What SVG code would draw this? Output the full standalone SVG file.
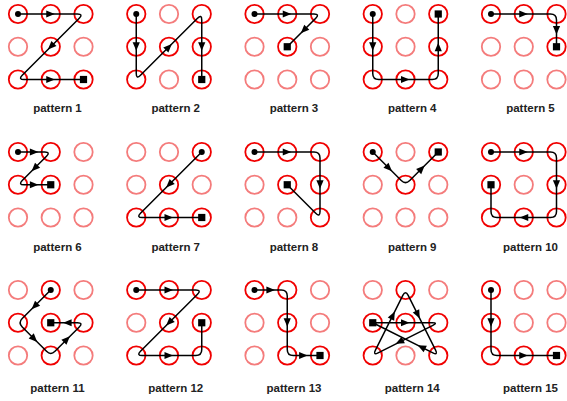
<svg xmlns="http://www.w3.org/2000/svg" xmlns:xlink="http://www.w3.org/1999/xlink" width="567" height="401" viewBox="0 0 567 401">
<style>
.on{fill:none;stroke:#f00000;stroke-width:1.8}
.off{fill:none;stroke:#f47c7c;stroke-width:1.8}
.ln{fill:none;stroke:#000;stroke-width:1.5;stroke-linejoin:round}
.ar,.st,.en{fill:#000;stroke:none}
.lb{font-family:"Liberation Sans",Arial,sans-serif;font-weight:bold;font-size:11.5px;fill:#222;text-anchor:middle}
</style>
<defs>
<circle id="on" class="on" r="9.2"/>
<circle id="off" class="off" r="9.2"/>
<path id="arr" class="ar" d="M4,0 L-4.5,-3.6 L-4.5,3.6 Z"/>
<circle id="st" class="st" r="3"/>
<rect id="en" class="en" x="-3.6" y="-3.6" width="7.2" height="7.2"/>
</defs>

<!-- pattern 1 -->
<g id="pattern1" transform="translate(18,14)">
<g class="dots">
<use href="#on" x="0" y="0"/><use href="#on" x="32.75" y="0"/><use href="#on" x="65.5" y="0"/>
<use href="#off" x="0" y="32.75"/><use href="#on" x="32.75" y="32.75"/><use href="#off" x="65.5" y="32.75"/>
<use href="#on" x="0" y="65.5"/><use href="#on" x="32.75" y="65.5"/><use href="#on" x="65.5" y="65.5"/>
</g>
<g class="connectors">
<path class="ln" d="M0,0 H59.5 Q65.5,0 61.26,4.24 L4.24,61.26 Q0,65.5 6,65.5 H65.5"/>
<use href="#arr" transform="translate(32.75,0)"/>
<use href="#arr" transform="translate(32.75,32.75) rotate(135)"/>
<use href="#arr" transform="translate(32.75,65.5)"/>
<use href="#st" x="0" y="0"/><use href="#en" x="65.5" y="65.5"/>
</g>
<text class="lb" x="39.5" y="98">pattern 1</text>
</g>

<!-- pattern 2 -->
<g id="pattern2" transform="translate(136.25,14)">
<g class="dots">
<use href="#on" x="0" y="0"/><use href="#off" x="32.75" y="0"/><use href="#on" x="65.5" y="0"/>
<use href="#on" x="0" y="32.75"/><use href="#on" x="32.75" y="32.75"/><use href="#on" x="65.5" y="32.75"/>
<use href="#on" x="0" y="65.5"/><use href="#off" x="32.75" y="65.5"/><use href="#on" x="65.5" y="65.5"/>
</g>
<g class="connectors">
<path class="ln" d="M0,0 V59.5 Q0,65.5 4.24,61.26 L61.26,4.24 Q65.5,0 65.5,6 V65.5"/>
<use href="#arr" transform="translate(0,32.75) rotate(90)"/>
<use href="#arr" transform="translate(32.75,32.75) rotate(-45)"/>
<use href="#arr" transform="translate(65.5,32.75) rotate(90)"/>
<use href="#st" x="0" y="0"/><use href="#en" x="65.5" y="65.5"/>
</g>
<text class="lb" x="39.5" y="98">pattern 2</text>
</g>

<!-- pattern 3 -->
<g id="pattern3" transform="translate(254.5,14)">
<g class="dots">
<use href="#on" x="0" y="0"/><use href="#on" x="32.75" y="0"/><use href="#on" x="65.5" y="0"/>
<use href="#off" x="0" y="32.75"/><use href="#on" x="32.75" y="32.75"/><use href="#off" x="65.5" y="32.75"/>
<use href="#off" x="0" y="65.5"/><use href="#off" x="32.75" y="65.5"/><use href="#off" x="65.5" y="65.5"/>
</g>
<g class="connectors">
<path class="ln" d="M0,0 H59.5 Q65.5,0 61.26,4.24 L32.75,32.75"/>
<use href="#arr" transform="translate(32.75,0)"/>
<use href="#arr" transform="translate(49.1,16.4) rotate(135)"/>
<use href="#st" x="0" y="0"/><use href="#en" x="32.75" y="32.75"/>
</g>
<text class="lb" x="39.5" y="98">pattern 3</text>
</g>

<!-- pattern 4 -->
<g id="pattern4" transform="translate(372.75,14)">
<g class="dots">
<use href="#on" x="0" y="0"/><use href="#off" x="32.75" y="0"/><use href="#on" x="65.5" y="0"/>
<use href="#on" x="0" y="32.75"/><use href="#off" x="32.75" y="32.75"/><use href="#on" x="65.5" y="32.75"/>
<use href="#on" x="0" y="65.5"/><use href="#on" x="32.75" y="65.5"/><use href="#on" x="65.5" y="65.5"/>
</g>
<g class="connectors">
<path class="ln" d="M0,0 V59.5 Q0,65.5 6,65.5 H59.5 Q65.5,65.5 65.5,59.5 V0"/>
<use href="#arr" transform="translate(0,32.75) rotate(90)"/>
<use href="#arr" transform="translate(32.75,65.5)"/>
<use href="#arr" transform="translate(65.5,32.75) rotate(-90)"/>
<use href="#st" x="0" y="0"/><use href="#en" x="65.5" y="0"/>
</g>
<text class="lb" x="39.5" y="98">pattern 4</text>
</g>

<!-- pattern 5 -->
<g id="pattern5" transform="translate(491,14)">
<g class="dots">
<use href="#on" x="0" y="0"/><use href="#on" x="32.75" y="0"/><use href="#on" x="65.5" y="0"/>
<use href="#off" x="0" y="32.75"/><use href="#off" x="32.75" y="32.75"/><use href="#on" x="65.5" y="32.75"/>
<use href="#off" x="0" y="65.5"/><use href="#off" x="32.75" y="65.5"/><use href="#off" x="65.5" y="65.5"/>
</g>
<g class="connectors">
<path class="ln" d="M0,0 H59.5 Q65.5,0 65.5,6 V32.75"/>
<use href="#arr" transform="translate(32.75,0)"/>
<use href="#arr" transform="translate(65.5,16.4) rotate(90)"/>
<use href="#st" x="0" y="0"/><use href="#en" x="65.5" y="32.75"/>
</g>
<text class="lb" x="39.5" y="98">pattern 5</text>
</g>

<!-- pattern 6 -->
<g id="pattern6" transform="translate(18,152)">
<g class="dots">
<use href="#on" x="0" y="0"/><use href="#on" x="32.75" y="0"/><use href="#off" x="65.5" y="0"/>
<use href="#on" x="0" y="32.75"/><use href="#on" x="32.75" y="32.75"/><use href="#off" x="65.5" y="32.75"/>
<use href="#off" x="0" y="65.5"/><use href="#off" x="32.75" y="65.5"/><use href="#off" x="65.5" y="65.5"/>
</g>
<g class="connectors">
<path class="ln" d="M0,0 H26.75 Q32.75,0 28.51,4.24 L4.24,28.51 Q0,32.75 6,32.75 H32.75"/>
<use href="#arr" transform="translate(16.4,0)"/>
<use href="#arr" transform="translate(16.4,16.4) rotate(135)"/>
<use href="#arr" transform="translate(16.4,32.75)"/>
<use href="#st" x="0" y="0"/><use href="#en" x="32.75" y="32.75"/>
</g>
<text class="lb" x="39.5" y="99">pattern 6</text>
</g>

<!-- pattern 7 -->
<g id="pattern7" transform="translate(136.25,152)">
<g class="dots">
<use href="#off" x="0" y="0"/><use href="#off" x="32.75" y="0"/><use href="#on" x="65.5" y="0"/>
<use href="#off" x="0" y="32.75"/><use href="#on" x="32.75" y="32.75"/><use href="#off" x="65.5" y="32.75"/>
<use href="#on" x="0" y="65.5"/><use href="#on" x="32.75" y="65.5"/><use href="#on" x="65.5" y="65.5"/>
</g>
<g class="connectors">
<path class="ln" d="M65.5,0 L4.24,61.26 Q0,65.5 6,65.5 H65.5"/>
<use href="#arr" transform="translate(32.75,32.75) rotate(135)"/>
<use href="#arr" transform="translate(32.75,65.5)"/>
<use href="#st" x="65.5" y="0"/><use href="#en" x="65.5" y="65.5"/>
</g>
<text class="lb" x="39.5" y="99">pattern 7</text>
</g>

<!-- pattern 8 -->
<g id="pattern8" transform="translate(254.5,152)">
<g class="dots">
<use href="#on" x="0" y="0"/><use href="#on" x="32.75" y="0"/><use href="#on" x="65.5" y="0"/>
<use href="#off" x="0" y="32.75"/><use href="#on" x="32.75" y="32.75"/><use href="#on" x="65.5" y="32.75"/>
<use href="#off" x="0" y="65.5"/><use href="#off" x="32.75" y="65.5"/><use href="#on" x="65.5" y="65.5"/>
</g>
<g class="connectors">
<path class="ln" d="M0,0 H59.5 Q65.5,0 65.5,6 V59.5 Q65.5,65.5 61.26,61.26 L32.75,32.75"/>
<use href="#arr" transform="translate(32.75,0)"/>
<use href="#arr" transform="translate(65.5,32.75) rotate(90)"/>
<use href="#st" x="0" y="0"/><use href="#en" x="32.75" y="32.75"/>
</g>
<text class="lb" x="39.5" y="99">pattern 8</text>
</g>

<!-- pattern 9 -->
<g id="pattern9" transform="translate(372.75,152)">
<g class="dots">
<use href="#on" x="0" y="0"/><use href="#off" x="32.75" y="0"/><use href="#on" x="65.5" y="0"/>
<use href="#off" x="0" y="32.75"/><use href="#on" x="32.75" y="32.75"/><use href="#off" x="65.5" y="32.75"/>
<use href="#off" x="0" y="65.5"/><use href="#off" x="32.75" y="65.5"/><use href="#off" x="65.5" y="65.5"/>
</g>
<g class="connectors">
<path class="ln" d="M0,0 L28.51,28.51 Q32.75,32.75 36.99,28.51 L65.5,0"/>
<use href="#arr" transform="translate(16.4,16.4) rotate(45)"/>
<use href="#arr" transform="translate(49.1,16.4) rotate(-45)"/>
<use href="#st" x="0" y="0"/><use href="#en" x="65.5" y="0"/>
</g>
<text class="lb" x="39.5" y="99">pattern 9</text>
</g>

<!-- pattern 10 -->
<g id="pattern10" transform="translate(491,152)">
<g class="dots">
<use href="#on" x="0" y="0"/><use href="#on" x="32.75" y="0"/><use href="#on" x="65.5" y="0"/>
<use href="#on" x="0" y="32.75"/><use href="#off" x="32.75" y="32.75"/><use href="#on" x="65.5" y="32.75"/>
<use href="#on" x="0" y="65.5"/><use href="#on" x="32.75" y="65.5"/><use href="#on" x="65.5" y="65.5"/>
</g>
<g class="connectors">
<path class="ln" d="M0,0 H59.5 Q65.5,0 65.5,6 V59.5 Q65.5,65.5 59.5,65.5 H6 Q0,65.5 0,59.5 V32.75"/>
<use href="#arr" transform="translate(32.75,0)"/>
<use href="#arr" transform="translate(65.5,32.75) rotate(90)"/>
<use href="#arr" transform="translate(32.75,65.5) rotate(180)"/>
<use href="#st" x="0" y="0"/><use href="#en" x="0" y="32.75"/>
</g>
<text class="lb" x="39.5" y="99">pattern 10</text>
</g>

<!-- pattern 11 -->
<g id="pattern11" transform="translate(18,290)">
<g class="dots">
<use href="#off" x="0" y="0"/><use href="#on" x="32.75" y="0"/><use href="#off" x="65.5" y="0"/>
<use href="#on" x="0" y="32.75"/><use href="#on" x="32.75" y="32.75"/><use href="#on" x="65.5" y="32.75"/>
<use href="#off" x="0" y="65.5"/><use href="#on" x="32.75" y="65.5"/><use href="#off" x="65.5" y="65.5"/>
</g>
<g class="connectors">
<path class="ln" d="M32.75,0 L4.24,28.51 Q0,32.75 4.24,36.99 L28.51,61.26 Q32.75,65.5 36.99,61.26 L61.26,36.99 Q65.5,32.75 59.5,32.75 H32.75"/>
<use href="#arr" transform="translate(16.4,16.4) rotate(135)"/>
<use href="#arr" transform="translate(16.4,49.1) rotate(45)"/>
<use href="#arr" transform="translate(49.1,49.1) rotate(-45)"/>
<use href="#arr" transform="translate(49.1,32.75) rotate(180)"/>
<use href="#st" x="32.75" y="0"/><use href="#en" x="32.75" y="32.75"/>
</g>
<text class="lb" x="39.5" y="102">pattern 11</text>
</g>

<!-- pattern 12 -->
<g id="pattern12" transform="translate(136.25,290)">
<g class="dots">
<use href="#on" x="0" y="0"/><use href="#on" x="32.75" y="0"/><use href="#on" x="65.5" y="0"/>
<use href="#off" x="0" y="32.75"/><use href="#on" x="32.75" y="32.75"/><use href="#on" x="65.5" y="32.75"/>
<use href="#on" x="0" y="65.5"/><use href="#on" x="32.75" y="65.5"/><use href="#on" x="65.5" y="65.5"/>
</g>
<g class="connectors">
<path class="ln" d="M0,0 H59.5 Q65.5,0 61.26,4.24 L4.24,61.26 Q0,65.5 6,65.5 H59.5 Q65.5,65.5 65.5,59.5 V32.75"/>
<use href="#arr" transform="translate(32.75,0)"/>
<use href="#arr" transform="translate(32.75,32.75) rotate(135)"/>
<use href="#arr" transform="translate(32.75,65.5)"/>
<use href="#st" x="0" y="0"/><use href="#en" x="65.5" y="32.75"/>
</g>
<text class="lb" x="39.5" y="102">pattern 12</text>
</g>

<!-- pattern 13 -->
<g id="pattern13" transform="translate(254.5,290)">
<g class="dots">
<use href="#on" x="0" y="0"/><use href="#on" x="32.75" y="0"/><use href="#off" x="65.5" y="0"/>
<use href="#off" x="0" y="32.75"/><use href="#on" x="32.75" y="32.75"/><use href="#off" x="65.5" y="32.75"/>
<use href="#off" x="0" y="65.5"/><use href="#on" x="32.75" y="65.5"/><use href="#on" x="65.5" y="65.5"/>
</g>
<g class="connectors">
<path class="ln" d="M0,0 H26.75 Q32.75,0 32.75,6 V59.5 Q32.75,65.5 38.75,65.5 H65.5"/>
<use href="#arr" transform="translate(16.4,0)"/>
<use href="#arr" transform="translate(32.75,32.75) rotate(90)"/>
<use href="#arr" transform="translate(49.1,65.5)"/>
<use href="#st" x="0" y="0"/><use href="#en" x="65.5" y="65.5"/>
</g>
<text class="lb" x="39.5" y="102">pattern 13</text>
</g>

<!-- pattern 14 -->
<g id="pattern14" transform="translate(372.75,290)">
<g class="dots">
<use href="#off" x="0" y="0"/><use href="#on" x="32.75" y="0"/><use href="#off" x="65.5" y="0"/>
<use href="#on" x="0" y="32.75"/><use href="#on" x="32.75" y="32.75"/><use href="#on" x="65.5" y="32.75"/>
<use href="#on" x="0" y="65.5"/><use href="#off" x="32.75" y="65.5"/><use href="#on" x="65.5" y="65.5"/>
</g>
<g class="connectors">
<path class="ln" d="M0,32.75 H59.5 Q65.5,32.75 60.14,35.43 L5.37,62.82 Q0,65.5 2.68,60.13 L30.07,5.37 Q32.75,0 35.43,5.37 L62.82,60.14 Q65.5,65.5 60.14,62.82 L0,32.75"/>
<use href="#arr" transform="translate(32.75,32.75)"/>
<use href="#arr" transform="translate(26.5,52) rotate(153.4)"/>
<use href="#arr" transform="translate(20.25,25) rotate(-63.4)"/>
<use href="#arr" transform="translate(45.25,25) rotate(63.4)"/>
<use href="#arr" transform="translate(48.5,57) rotate(206.6)"/>
<use href="#en" x="0" y="32.75"/>
</g>
<text class="lb" x="39.5" y="102">pattern 14</text>
</g>

<!-- pattern 15 -->
<g id="pattern15" transform="translate(491,290)">
<g class="dots">
<use href="#on" x="0" y="0"/><use href="#off" x="32.75" y="0"/><use href="#off" x="65.5" y="0"/>
<use href="#on" x="0" y="32.75"/><use href="#off" x="32.75" y="32.75"/><use href="#off" x="65.5" y="32.75"/>
<use href="#on" x="0" y="65.5"/><use href="#on" x="32.75" y="65.5"/><use href="#on" x="65.5" y="65.5"/>
</g>
<g class="connectors">
<path class="ln" d="M0,0 V59.5 Q0,65.5 6,65.5 H65.5"/>
<use href="#arr" transform="translate(0,32.75) rotate(90)"/>
<use href="#arr" transform="translate(32.75,65.5)"/>
<use href="#st" x="0" y="0"/><use href="#en" x="65.5" y="65.5"/>
</g>
<text class="lb" x="39.5" y="102">pattern 15</text>
</g>
</svg>
